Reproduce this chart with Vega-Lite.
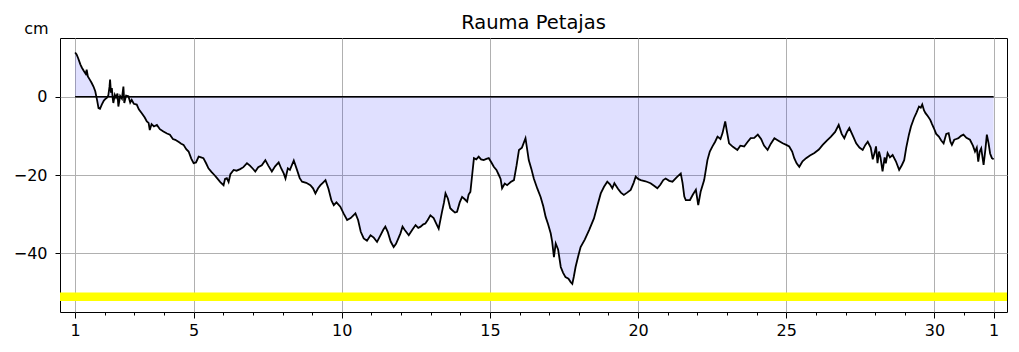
{
  "$schema": "https://vega.github.io/schema/vega-lite/v6.json",
  "width": 947,
  "height": 274,
  "autosize": {"type": "none"},
  "padding": {"left": 60, "top": 38, "right": 12, "bottom": 40},
  "background": "white",
  "title": {"text": "Rauma Petajas", "font": "DejaVu Sans", "fontSize": 19.5, "fontWeight": "normal", "color": "black", "anchor": "middle", "baseline": "alphabetic", "offset": 11, "dy": 39},
  "config": {
    "view": {"stroke": "black", "strokeWidth": 1},
    "axis": {"labelFont": "DejaVu Sans", "labelFontSize": 16, "labelColor": "black", "tickColor": "black", "tickWidth": 1, "gridColor": "#b0b0b0", "gridWidth": 1, "gridOpacity": 1, "domain": false}
  },
  "datasets": {
    "tide": [
      {"day":1.00,"cm":11.3},{"day":1.05,"cm":10.8},{"day":1.10,"cm":9.9},{"day":1.18,"cm":8.2},{"day":1.23,"cm":7.4},{"day":1.30,"cm":6.5},{"day":1.36,"cm":5.8},{"day":1.39,"cm":6.9},{"day":1.43,"cm":5.2},{"day":1.50,"cm":4.3},{"day":1.56,"cm":3.5},{"day":1.62,"cm":2.6},{"day":1.68,"cm":1.4},{"day":1.74,"cm":-0.8},{"day":1.79,"cm":-2.9},{"day":1.84,"cm":-3.1},{"day":1.90,"cm":-2.0},{"day":1.97,"cm":-1.0},
      {"day":2.03,"cm":-0.5},{"day":2.07,"cm":-0.3},{"day":2.12,"cm":0.3},{"day":2.16,"cm":2.5},{"day":2.18,"cm":4.4},{"day":2.21,"cm":1.0},{"day":2.24,"cm":2.2},{"day":2.27,"cm":-0.5},{"day":2.29,"cm":-1.6},{"day":2.34,"cm":0.5},{"day":2.38,"cm":-0.2},{"day":2.43,"cm":0.8},{"day":2.46,"cm":-2.5},{"day":2.52,"cm":0.2},{"day":2.58,"cm":-0.5},{"day":2.63,"cm":2.6},{"day":2.66,"cm":-1.6},{"day":2.72,"cm":0.3},{"day":2.80,"cm":0.1},{"day":2.86,"cm":-1.5},{"day":2.91,"cm":-0.8},{"day":2.98,"cm":-1.8},
      {"day":3.08,"cm":-2.0},{"day":3.15,"cm":-3.2},{"day":3.25,"cm":-4.2},{"day":3.35,"cm":-5.3},{"day":3.42,"cm":-6.3},{"day":3.48,"cm":-6.7},{"day":3.52,"cm":-8.5},{"day":3.58,"cm":-7.0},{"day":3.66,"cm":-7.6},{"day":3.76,"cm":-7.2},{"day":3.86,"cm":-8.3},{"day":3.98,"cm":-8.9},
      {"day":4.10,"cm":-9.4},{"day":4.20,"cm":-9.7},{"day":4.30,"cm":-10.8},{"day":4.38,"cm":-11.0},{"day":4.50,"cm":-11.6},{"day":4.58,"cm":-12.0},{"day":4.66,"cm":-12.3},{"day":4.75,"cm":-13.4},{"day":4.83,"cm":-14.0},{"day":4.92,"cm":-15.8},
      {"day":5.00,"cm":-17.0},{"day":5.08,"cm":-16.8},{"day":5.17,"cm":-15.3},{"day":5.25,"cm":-15.5},{"day":5.33,"cm":-15.7},{"day":5.42,"cm":-17.0},{"day":5.50,"cm":-18.3},{"day":5.60,"cm":-19.2},{"day":5.70,"cm":-20.0},{"day":5.79,"cm":-20.8},{"day":5.90,"cm":-21.8},
      {"day":6.01,"cm":-22.6},{"day":6.06,"cm":-21.0},{"day":6.12,"cm":-20.8},{"day":6.18,"cm":-21.8},{"day":6.24,"cm":-19.8},{"day":6.35,"cm":-18.7},{"day":6.45,"cm":-18.9},{"day":6.57,"cm":-18.5},{"day":6.68,"cm":-18.0},{"day":6.80,"cm":-17.0},{"day":6.90,"cm":-17.6},
      {"day":7.00,"cm":-18.4},{"day":7.08,"cm":-19.1},{"day":7.18,"cm":-18.0},{"day":7.30,"cm":-17.5},{"day":7.42,"cm":-16.2},{"day":7.52,"cm":-17.6},{"day":7.64,"cm":-19.1},{"day":7.75,"cm":-17.8},{"day":7.87,"cm":-16.8},{"day":7.96,"cm":-18.4},
      {"day":8.04,"cm":-19.6},{"day":8.10,"cm":-20.9},{"day":8.18,"cm":-18.3},{"day":8.25,"cm":-18.7},{"day":8.38,"cm":-16.3},{"day":8.48,"cm":-18.5},{"day":8.58,"cm":-20.8},{"day":8.66,"cm":-21.7},{"day":8.80,"cm":-22.0},{"day":8.94,"cm":-22.6},
      {"day":9.03,"cm":-23.4},{"day":9.11,"cm":-24.7},{"day":9.20,"cm":-23.4},{"day":9.28,"cm":-22.6},{"day":9.36,"cm":-22.0},{"day":9.45,"cm":-21.3},{"day":9.55,"cm":-23.5},{"day":9.65,"cm":-26.5},{"day":9.73,"cm":-27.7},{"day":9.82,"cm":-27.0},{"day":9.95,"cm":-28.1},
      {"day":10.06,"cm":-29.8},{"day":10.18,"cm":-31.5},{"day":10.30,"cm":-31.0},{"day":10.46,"cm":-29.8},{"day":10.55,"cm":-31.5},{"day":10.64,"cm":-34.5},{"day":10.74,"cm":-36.2},{"day":10.85,"cm":-36.8},{"day":10.97,"cm":-35.4},
      {"day":11.08,"cm":-36.0},{"day":11.19,"cm":-37.1},{"day":11.30,"cm":-35.5},{"day":11.40,"cm":-34.0},{"day":11.47,"cm":-33.2},{"day":11.55,"cm":-34.5},{"day":11.65,"cm":-37.0},{"day":11.75,"cm":-38.4},{"day":11.83,"cm":-37.6},{"day":11.92,"cm":-36.0},{"day":11.98,"cm":-34.9},
      {"day":12.05,"cm":-33.2},{"day":12.12,"cm":-34.0},{"day":12.26,"cm":-35.4},{"day":12.38,"cm":-34.0},{"day":12.49,"cm":-32.8},{"day":12.58,"cm":-33.5},{"day":12.66,"cm":-33.2},{"day":12.75,"cm":-32.6},{"day":12.82,"cm":-32.4},{"day":12.90,"cm":-31.5},{"day":12.99,"cm":-30.3},
      {"day":13.10,"cm":-31.0},{"day":13.20,"cm":-32.6},{"day":13.27,"cm":-33.7},{"day":13.38,"cm":-29.5},{"day":13.45,"cm":-27.0},{"day":13.50,"cm":-24.7},{"day":13.58,"cm":-26.0},{"day":13.66,"cm":-28.5},{"day":13.73,"cm":-29.0},{"day":13.82,"cm":-29.6},{"day":13.89,"cm":-29.4},{"day":13.98,"cm":-27.0},
      {"day":14.06,"cm":-25.6},{"day":14.15,"cm":-26.2},{"day":14.23,"cm":-26.8},{"day":14.28,"cm":-25.0},{"day":14.34,"cm":-24.3},{"day":14.40,"cm":-20.0},{"day":14.46,"cm":-15.7},{"day":14.54,"cm":-16.0},{"day":14.62,"cm":-15.3},{"day":14.70,"cm":-16.0},{"day":14.79,"cm":-16.2},{"day":14.88,"cm":-15.9},{"day":14.96,"cm":-15.7},
      {"day":15.05,"cm":-16.8},{"day":15.13,"cm":-17.9},{"day":15.22,"cm":-18.7},{"day":15.30,"cm":-20.0},{"day":15.36,"cm":-21.0},{"day":15.41,"cm":-23.4},{"day":15.50,"cm":-22.2},{"day":15.58,"cm":-22.6},{"day":15.70,"cm":-21.8},{"day":15.81,"cm":-21.3},{"day":15.90,"cm":-17.5},{"day":15.98,"cm":-13.6},
      {"day":16.08,"cm":-13.0},{"day":16.20,"cm":-10.6},{"day":16.31,"cm":-16.2},{"day":16.40,"cm":-18.5},{"day":16.48,"cm":-20.9},{"day":16.60,"cm":-23.5},{"day":16.71,"cm":-25.6},{"day":16.80,"cm":-28.0},{"day":16.88,"cm":-30.7},{"day":16.96,"cm":-32.5},
      {"day":17.05,"cm":-34.9},{"day":17.10,"cm":-37.0},{"day":17.16,"cm":-41.0},{"day":17.22,"cm":-37.5},{"day":17.30,"cm":-39.0},{"day":17.39,"cm":-43.5},{"day":17.47,"cm":-45.0},{"day":17.55,"cm":-46.1},{"day":17.65,"cm":-46.5},{"day":17.72,"cm":-47.3},{"day":17.78,"cm":-47.8},{"day":17.83,"cm":-46.0},{"day":17.89,"cm":-43.5},{"day":17.97,"cm":-41.0},
      {"day":18.06,"cm":-38.4},{"day":18.20,"cm":-36.5},{"day":18.35,"cm":-34.0},{"day":18.51,"cm":-31.1},{"day":18.62,"cm":-28.0},{"day":18.74,"cm":-24.7},{"day":18.85,"cm":-23.0},{"day":18.96,"cm":-21.7},
      {"day":19.05,"cm":-22.4},{"day":19.13,"cm":-23.4},{"day":19.20,"cm":-22.1},{"day":19.32,"cm":-23.5},{"day":19.42,"cm":-24.5},{"day":19.52,"cm":-25.1},{"day":19.63,"cm":-24.5},{"day":19.75,"cm":-23.8},{"day":19.85,"cm":-22.0},{"day":19.92,"cm":-20.4},
      {"day":20.00,"cm":-21.0},{"day":20.09,"cm":-21.3},{"day":20.25,"cm":-21.6},{"day":20.42,"cm":-22.1},{"day":20.55,"cm":-22.8},{"day":20.65,"cm":-23.4},{"day":20.75,"cm":-22.5},{"day":20.85,"cm":-21.3},{"day":20.93,"cm":-20.9},
      {"day":21.05,"cm":-21.5},{"day":21.16,"cm":-21.7},{"day":21.30,"cm":-20.6},{"day":21.44,"cm":-19.6},{"day":21.50,"cm":-22.0},{"day":21.56,"cm":-25.5},{"day":21.61,"cm":-26.4},{"day":21.75,"cm":-26.4},{"day":21.85,"cm":-25.0},{"day":21.95,"cm":-23.8},
      {"day":22.03,"cm":-27.7},{"day":22.11,"cm":-24.3},{"day":22.23,"cm":-21.3},{"day":22.34,"cm":-16.2},{"day":22.42,"cm":-14.0},{"day":22.51,"cm":-12.7},{"day":22.60,"cm":-11.5},{"day":22.68,"cm":-10.2},{"day":22.78,"cm":-10.8},{"day":22.85,"cm":-9.3},{"day":22.94,"cm":-6.3},
      {"day":23.00,"cm":-9.0},{"day":23.07,"cm":-11.9},{"day":23.20,"cm":-12.8},{"day":23.35,"cm":-13.6},{"day":23.45,"cm":-12.5},{"day":23.58,"cm":-12.7},{"day":23.70,"cm":-11.5},{"day":23.80,"cm":-10.6},{"day":23.92,"cm":-10.5},
      {"day":24.04,"cm":-9.7},{"day":24.15,"cm":-10.8},{"day":24.25,"cm":-12.5},{"day":24.37,"cm":-13.6},{"day":24.48,"cm":-12.0},{"day":24.60,"cm":-10.6},{"day":24.75,"cm":-11.3},{"day":24.88,"cm":-11.9},
      {"day":25.00,"cm":-12.3},{"day":25.10,"cm":-12.7},{"day":25.20,"cm":-14.0},{"day":25.27,"cm":-15.7},{"day":25.35,"cm":-17.0},{"day":25.44,"cm":-17.9},{"day":25.55,"cm":-16.5},{"day":25.67,"cm":-15.7},{"day":25.80,"cm":-15.0},{"day":25.95,"cm":-14.4},
      {"day":26.10,"cm":-13.5},{"day":26.23,"cm":-12.3},{"day":26.37,"cm":-11.2},{"day":26.51,"cm":-10.2},{"day":26.65,"cm":-9.0},{"day":26.77,"cm":-7.2},{"day":26.87,"cm":-9.5},{"day":26.96,"cm":-10.6},
      {"day":27.05,"cm":-9.0},{"day":27.13,"cm":-8.0},{"day":27.25,"cm":-10.0},{"day":27.36,"cm":-11.9},{"day":27.47,"cm":-13.0},{"day":27.58,"cm":-13.6},{"day":27.67,"cm":-12.3},{"day":27.75,"cm":-11.5},{"day":27.85,"cm":-13.0},{"day":27.92,"cm":-16.0},{"day":27.98,"cm":-14.4},
      {"day":28.03,"cm":-12.7},{"day":28.08,"cm":-17.0},{"day":28.13,"cm":-14.0},{"day":28.18,"cm":-15.5},{"day":28.25,"cm":-19.1},{"day":28.32,"cm":-15.5},{"day":28.36,"cm":-17.0},{"day":28.42,"cm":-14.4},{"day":28.50,"cm":-15.5},{"day":28.59,"cm":-14.9},{"day":28.70,"cm":-16.5},{"day":28.81,"cm":-18.7},{"day":28.90,"cm":-17.5},{"day":28.98,"cm":-16.2},
      {"day":29.05,"cm":-13.0},{"day":29.14,"cm":-9.7},{"day":29.21,"cm":-7.6},{"day":29.31,"cm":-5.5},{"day":29.40,"cm":-4.0},{"day":29.48,"cm":-2.5},{"day":29.54,"cm":-2.8},{"day":29.59,"cm":-2.0},{"day":29.65,"cm":-3.5},{"day":29.70,"cm":-4.2},{"day":29.78,"cm":-5.0},{"day":29.86,"cm":-5.9},{"day":29.92,"cm":-7.0},{"day":29.98,"cm":-8.0},
      {"day":30.06,"cm":-9.5},{"day":30.15,"cm":-10.2},{"day":30.23,"cm":-11.2},{"day":30.31,"cm":-11.9},{"day":30.40,"cm":-9.5},{"day":30.48,"cm":-9.3},{"day":30.54,"cm":-11.5},{"day":30.59,"cm":-12.3},{"day":30.67,"cm":-11.0},{"day":30.74,"cm":-10.8},{"day":30.81,"cm":-10.6},{"day":30.90,"cm":-10.0},{"day":30.98,"cm":-9.7},
      {"day":31.08,"cm":-10.5},{"day":31.20,"cm":-11.0},{"day":31.30,"cm":-12.5},{"day":31.37,"cm":-14.0},{"day":31.43,"cm":-13.0},{"day":31.48,"cm":-16.6},{"day":31.53,"cm":-14.0},{"day":31.58,"cm":-13.2},{"day":31.66,"cm":-17.4},{"day":31.72,"cm":-13.5},{"day":31.77,"cm":-9.7},{"day":31.83,"cm":-12.0},{"day":31.88,"cm":-14.5},{"day":31.94,"cm":-15.7},{"day":32.00,"cm":-16.0}
    ],
    "ref": [{"day": 1, "dayEnd": 32, "cm": 0}],
    "band": [{"cm": -51.1}]
  },
  "layer": [
    {
      "data": {"name": "tide"},
      "mark": {"type": "area", "color": "#0000ff", "opacity": 0.12},
      "encoding": {
        "x": {"field": "day", "type": "quantitative", "scale": {"domain": [0.49, 32.45], "nice": false, "zero": false},
          "axis": {"orient": "bottom", "values": [1, 5, 10, 15, 20, 25, 30, 32], "labelExpr": "datum.value == 32 ? '1' : datum.label", "format": "d", "tickSize": 6, "labelPadding": 4, "grid": true, "title": null, "labelFlush": false, "labelOverlap": false}},
        "y": {"field": "cm", "type": "quantitative", "scale": {"domain": [-55, 15], "nice": false, "zero": false},
          "axis": {"values": [-40, -20, 0], "format": "d", "labelExpr": "replace(datum.label, '-', '\u2212')", "tickSize": 5, "labelPadding": 8, "grid": true, "title": "cm", "titleAngle": 0, "titleX": -24, "titleY": -5, "titleAlign": "center", "titleBaseline": "alphabetic", "titleFont": "DejaVu Sans", "titleFontSize": 16, "titleFontWeight": "normal", "titleColor": "black"}},
        "y2": {"datum": 0}
      }
    },
    {
      "data": {"name": "ref"},
      "mark": {"type": "rule", "color": "black", "strokeWidth": 1.5},
      "encoding": {
        "x": {"field": "day", "type": "quantitative",
          "axis": {"orient": "bottom", "values": [2,3,4,6,7,8,9,11,12,13,14,16,17,18,19,21,22,23,24,26,27,28,29,31], "labels": false, "tickSize": 3, "grid": false, "title": null}},
        "x2": {"field": "dayEnd"},
        "y": {"field": "cm", "type": "quantitative"}
      }
    },
    {
      "data": {"name": "band"},
      "mark": {"type": "rule", "color": "#ffff00", "strokeWidth": 8.7},
      "encoding": {"y": {"field": "cm", "type": "quantitative"}}
    },
    {
      "data": {"name": "tide"},
      "mark": {"type": "line", "color": "black", "strokeWidth": 1.8},
      "encoding": {
        "x": {"field": "day", "type": "quantitative", "axis": null},
        "y": {"field": "cm", "type": "quantitative"}
      }
    }
  ],
  "resolve": {"axis": {"x": "independent"}}
}
